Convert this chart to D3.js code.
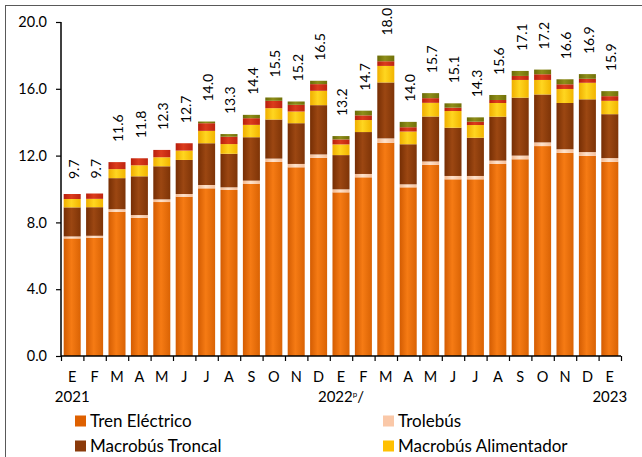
<!DOCTYPE html>
<html><head><meta charset="utf-8">
<script src="https://cdn.jsdelivr.net/npm/d3@7"></script>
<style>body{margin:0;background:#fff}svg{display:block}</style>
</head><body><svg id="c" width="642" height="457"></svg>
<script>
const months = ["E","F","M","A","M","J","J","A","S","O","N","D","E","F","M","A","M","J","J","A","S","O","N","D","E"];
const years = [{i:0, t:"2021"}, {i:12, t:"2022", sup:"p", tail:"/"}, {i:24, t:"2023"}];
const totals = [9.7,9.7,11.6,11.8,12.3,12.7,14.0,13.3,14.4,15.5,15.2,16.5,13.2,14.7,18.0,14.0,15.7,15.1,14.3,15.6,17.1,17.2,16.6,16.9,15.9];
const trenElectrico = [7.04,7.08,8.64,8.28,9.22,9.54,10.04,9.94,10.3,11.62,11.3,11.87,9.8,10.7,12.77,10.1,11.45,10.58,10.58,11.5,11.78,12.57,12.16,11.99,11.63];
const trolebus = [0.12,0.12,0.15,0.16,0.16,0.16,0.2,0.16,0.2,0.2,0.2,0.2,0.18,0.2,0.26,0.18,0.2,0.2,0.2,0.2,0.22,0.22,0.22,0.22,0.22];
const macroTroncal = [1.74,1.71,1.86,2.32,1.98,2.04,2.5,2.01,2.6,2.34,2.44,2.95,2.05,2.51,3.35,2.4,2.69,2.89,2.29,2.63,3.47,2.87,2.77,3.16,2.63];
const macroAlimentador = [0.5,0.5,0.54,0.66,0.54,0.56,0.74,0.58,0.74,0.68,0.7,0.86,0.64,0.72,0.99,0.76,0.82,1.0,0.76,0.82,1.06,0.87,0.84,0.99,0.8];
const serieRoja = [0.3,0.32,0.42,0.42,0.44,0.44,0.46,0.44,0.4,0.44,0.4,0.4,0.3,0.28,0.28,0.26,0.28,0.2,0.2,0.18,0.24,0.34,0.28,0.24,0.28];
const serieOliva = [0,0,0,0,0,0,0.1,0.16,0.2,0.2,0.2,0.2,0.2,0.28,0.34,0.32,0.3,0.26,0.26,0.3,0.3,0.28,0.3,0.28,0.3];
const yTicks = [0,4,8,12,16,20];

const seriesDefs = [
  {key:"Tren Eléctrico", vals:trenElectrico, c:["#D35C02","#F67B14","#DA6304"], legend:"#DE6000"},
  {key:"Trolebús", vals:trolebus, c:["#F3B88E","#FDE2CC","#F5BE98"], legend:"#FAC8A8"},
  {key:"Macrobús Troncal", vals:macroTroncal, c:["#762E04","#9C4712","#7E3407"], legend:"#8A3A0A"},
  {key:"Macrobús Alimentador", vals:macroAlimentador, c:["#EFAE00","#FFD620","#F2B400"], legend:"#FFC000"},
  {key:"s5", vals:serieRoja, c:["#B81E0C","#DC3C1C","#BE2410"]},
  {key:"s6", vals:serieOliva, c:["#6A6A06","#8E8E1A","#707008"]}
];
const legendItems = seriesDefs.slice(0,4);

const rows = months.map((m,i)=>{const r={i}; seriesDefs.forEach(s=>r[s.key]=s.vals[i]); return r;});
const stack = d3.stack().keys(seriesDefs.map(s=>s.key))(rows);

const svg = d3.select("#c");
const font = "Lato, 'Noto Sans', sans-serif";
const defs = svg.append("defs");
seriesDefs.forEach((s,k)=>{
  const g = defs.append("linearGradient").attr("id","g"+k).attr("x1","0").attr("x2","1").attr("y1","0").attr("y2","0");
  g.append("stop").attr("offset","0%").attr("stop-color",s.c[0]);
  g.append("stop").attr("offset","45%").attr("stop-color",s.c[1]);
  g.append("stop").attr("offset","100%").attr("stop-color",s.c[2]);
});

// frame
svg.append("rect").attr("x",5.5).attr("y",5.5).attr("width",700).attr("height",600)
  .attr("fill","none").attr("stroke","#595959").attr("stroke-width",1);

const x = d3.scaleBand().domain(d3.range(months.length)).range([61,621]).paddingInner(0.24).paddingOuter(0.12);
const xEdge = d3.scaleLinear().domain([0,months.length]).range([61,621]);
const y = d3.scaleLinear().domain([0,20]).range([356,22]);

// bars
svg.append("g").selectAll("g").data(stack).join("g")
  .attr("fill",(d,k)=>`url(#g${k})`)
  .selectAll("rect").data(d=>d).join("rect")
  .attr("x",d=>x(d.data.i)).attr("width",x.bandwidth())
  .attr("y",d=>y(d[1])).attr("height",d=>Math.max(0,y(d[0])-y(d[1])));

// value labels
svg.append("g").selectAll("text").data(totals).join("text")
  .attr("transform",(v,i)=>{const lab=v.toFixed(1); const gap=20-(4-lab.length)*5; return `translate(${x(i)+x.bandwidth()/2+1.5},${y(d3.sum(seriesDefs,s=>s.vals[i]))-gap}) rotate(-90)`;})
  .attr("dy","0.35em").attr("text-anchor","start")
  .style("font-family",font).style("font-size","14px").attr("fill","#000")
  .text(v=>v.toFixed(1));

// y axis
const ya = svg.append("g").attr("transform","translate(61,0)")
  .call(d3.axisLeft(y).tickValues(yTicks).tickFormat(d3.format(".1f")).tickSize(5).tickPadding(9));
ya.select(".domain").attr("stroke","#000").attr("stroke-width",1.5).attr("d","M0,22V356");
ya.selectAll(".tick line").attr("stroke","#000").attr("stroke-width",1.2);
ya.selectAll("text").style("font-family",font).style("font-size","14.5px").attr("fill","#000");

// x axis
const xa = svg.append("g").attr("transform","translate(0,356)")
  .call(d3.axisBottom(xEdge).tickValues(d3.range(months.length+1)).tickFormat("").tickSize(5));
xa.select(".domain").attr("stroke","#000").attr("stroke-width",1.5).attr("d","M61,0H621");
xa.selectAll(".tick line").attr("stroke","#000").attr("stroke-width",1.2);
const xl = svg.append("g").attr("transform","translate(0,356)")
  .call(d3.axisBottom(x).tickFormat(i=>months[i]).tickSize(0).tickPadding(16));
xl.select(".domain").remove();
xl.selectAll("text").style("font-family",font).style("font-size","14.5px").attr("fill","#000");

// years
const yt = svg.append("g").selectAll("text").data(years).join("text")
  .attr("x",d=>x(d.i)+x.bandwidth()/2).attr("y",402).attr("text-anchor","middle")
  .style("font-family",font).style("font-size","15px").attr("fill","#000");
yt.append("tspan").text(d=>d.t);
yt.filter(d=>d.sup).append("tspan").attr("dy",-5).style("font-size","8px").text(d=>d.sup);
yt.filter(d=>d.tail).append("tspan").attr("dy",5).text(d=>d.tail);

// legend
const lg = svg.append("g").selectAll("g").data(legendItems).join("g")
  .attr("transform",(d,k)=>`translate(${k%2===0?75:383},${k<2?421:446})`);
lg.append("rect").attr("x",0).attr("y",-5.5).attr("width",11).attr("height",11).attr("fill",d=>d.legend);
lg.append("text").attr("x",15).attr("dy","0.35em")
  .style("font-family",font).style("font-size","17px").attr("fill","#000").text(d=>d.key);
</script></body></html>
